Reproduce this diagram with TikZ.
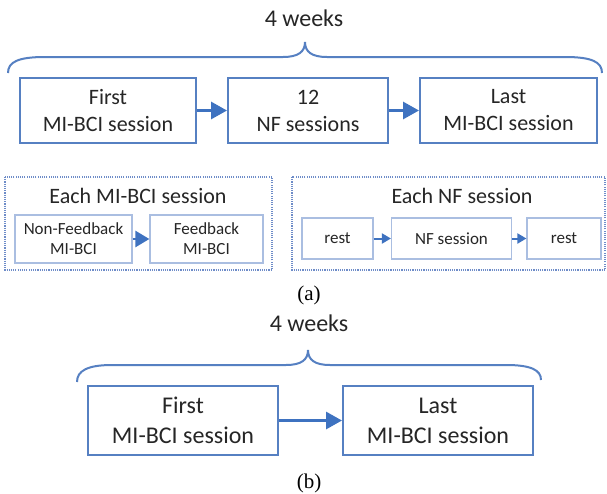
\documentclass[tikz,border=0pt]{standalone}
\usepackage{fontspec}
\setmainfont{Carlito}
\newfontfamily\capfont{Liberation Serif}
\usetikzlibrary{arrows.meta}
\definecolor{boxblue}{RGB}{86,128,194}
\definecolor{arrowblue}{RGB}{62,114,192}
\definecolor{lightbox}{RGB}{170,190,225}
\definecolor{dotblue}{RGB}{110,140,200}
\definecolor{textgray}{RGB}{38,38,38}
\tikzset{
  bigbox/.style={draw=boxblue, line width=2pt, inner sep=0pt, align=center, text=textgray,
    font=\fontsize{22}{27}\selectfont},
  bigboxb/.style={bigbox, font=\fontsize{24}{30}\selectfont},
  smallbox/.style={draw=lightbox, line width=1.2pt, inner sep=0pt, align=center, text=textgray,
    font=\fontsize{17}{20}\selectfont},
  dotbox/.style={draw=dotblue, line width=1.5pt, dash pattern=on 1.1pt off 1.1pt},
  titletext/.style={text=textgray, font=\fontsize{22}{26}\selectfont, inner sep=0pt},
  weektext/.style={text=textgray, font=\fontsize{24}{28}\selectfont, inner sep=0pt},
  captext/.style={text=black, font=\capfont\fontsize{21}{24}\selectfont, inner sep=0pt},
  bigarrow/.style={draw=arrowblue, line width=3pt, -{Triangle[length=16pt,width=17pt]}},
  smallarrow/.style={draw=arrowblue, line width=2pt, -{Triangle[length=9pt,width=10pt]}},
  midarrow/.style={draw=arrowblue, line width=2.5pt, -{Triangle[length=14pt,width=16pt]}},
  bracepath/.style={draw=boxblue, line width=2pt},
}
\begin{document}
\begin{tikzpicture}[x=1pt,y=-1pt]
\useasboundingbox[fill=white] (0,0) rectangle (607,493);

% ---------- (a) ----------
\node[weektext] (wk1) at (304,18) {4 weeks};
\draw[bracepath] (8,73) .. controls (8,62) and (18,57) .. (45,57) -- (283,57)
  .. controls (298,57) and (305,52) .. (305,42)
  .. controls (305,52) and (312,57) .. (327,57) -- (565,57)
  .. controls (592,57) and (602,62) .. (602,73);

\node[bigbox, minimum width=176pt, minimum height=65pt] (first) at (108,110.5) {First\\MI-BCI session};
\node[bigbox, minimum width=160pt, minimum height=65pt] (nf12) at (308,110.5) {12\\NF sessions};
\node[bigbox, minimum width=177pt, minimum height=65pt] (last) at (508.5,110.5) {Last\\MI-BCI session};
\draw[bigarrow] (first.east) -- (nf12.west);
\draw[bigarrow] (nf12.east) -- (last.west);

% left dotted
\draw[dotbox] (5,177) rectangle (272,270);
\node[titletext] (t1) at (138,196) {Each MI-BCI session};
\node[smallbox, minimum width=117pt, minimum height=48pt] (nfb) at (73.5,239) {Non-Feedback\\MI-BCI};
\node[smallbox, minimum width=113pt, minimum height=48pt] (fb) at (206.5,239) {Feedback\\MI-BCI};
\draw[midarrow] (nfb.east) -- (fb.west);

% right dotted
\draw[dotbox] (292,177) rectangle (605,270);
\node[titletext] (t2) at (462,196) {Each NF session};
\node[smallbox, minimum width=71pt, minimum height=41pt] (r1) at (337.5,238.5) {rest};
\node[smallbox, minimum width=120pt, minimum height=41pt] (nfs) at (451.5,238.5) {NF session};
\node[smallbox, minimum width=74pt, minimum height=41pt] (r2) at (564,238.5) {rest};
\draw[smallarrow] (r1.east) -- (nfs.west);
\draw[smallarrow] (nfs.east) -- (r2.west);

\node[captext] (capa) at (309,295) {(a)};

% ---------- (b) ----------
\node[weektext] (wk2) at (309,323) {4 weeks};
\draw[bracepath] (77,382) .. controls (77,371) and (87,365) .. (112,365) -- (286,365)
  .. controls (301,365) and (308,360) .. (308,350)
  .. controls (308,360) and (315,365) .. (330,365) -- (506,365)
  .. controls (531,365) and (541,370) .. (541,380);

\node[bigboxb, minimum width=190pt, minimum height=69pt] (firstb) at (183,420.5) {First\\MI-BCI session};
\node[bigboxb, minimum width=190pt, minimum height=69pt] (lastb) at (438,420.5) {Last\\MI-BCI session};
\draw[bigarrow] (firstb.east) -- (lastb.west);

\node[captext] (capb) at (309,483) {(b)};
\end{tikzpicture}
\end{document}
